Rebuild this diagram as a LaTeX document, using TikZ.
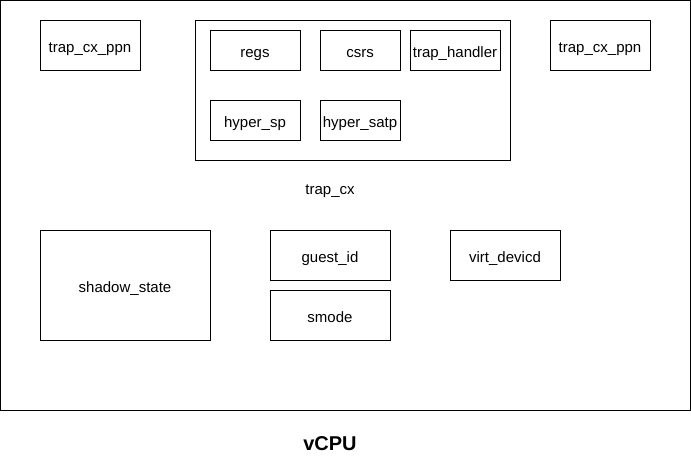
\documentclass[tikz,border=0pt]{standalone}
\usepackage{fontspec}
\setmainfont{Liberation Sans}
\usepackage{tikz}

\begin{document}
\begin{tikzpicture}[x=0.75pt, y=-0.75pt, line width=0.75pt,
  every node/.style={font=\fontsize{11.25}{13}\selectfont, inner sep=0pt,
    text height=10.5pt, text depth=0pt},
  field/.style={draw, rectangle, minimum width=#1*0.75pt},
  field/.default=90]
\useasboundingbox (0,0) rectangle (691,461);

% Frames
\node[draw, minimum width=690*0.75pt, minimum height=410*0.75pt] (vcpu) at (345.5,205.5) {};
\node[draw, minimum width=315*0.75pt, minimum height=140*0.75pt] (cx) at (352.5,90) {};

% Fields of trap_cx
\node[field, minimum height=30pt] (regs) at (255,50) {regs};
\node[field=80, minimum height=30pt] (csrs) at (360,50) {csrs};
\node[field, minimum height=30pt] (handler) at (455,50) {trap\_handler};
\node[field, minimum height=30pt] (sp) at (255,120) {hyper\_sp};
\node[field=80, minimum height=30pt] (satp) at (360,120) {hyper\_satp};
\node (cxlabel) at (330,187) {trap\_cx};

% Other fields
\node[field=100, minimum height=37.5pt] (ppnl) at (90,45) {trap\_cx\_ppn};
\node[field=100, minimum height=37.5pt] (ppnr) at (600,45) {trap\_cx\_ppn};
\node[field=170, minimum height=82.5pt] (shadow) at (125,285) {shadow\_state};
\node[field=120, minimum height=37.5pt] (guest) at (330,255) {guest\_id};
\node[field=120, minimum height=37.5pt] (smode) at (330,315) {smode};
\node[field=110, minimum height=37.5pt] (virt) at (505,255) {virt\_devicd};

% Title
\node[font=\fontsize{15}{18}\selectfont\bfseries] (title) at (330,443) {vCPU};
\end{tikzpicture}
\end{document}
